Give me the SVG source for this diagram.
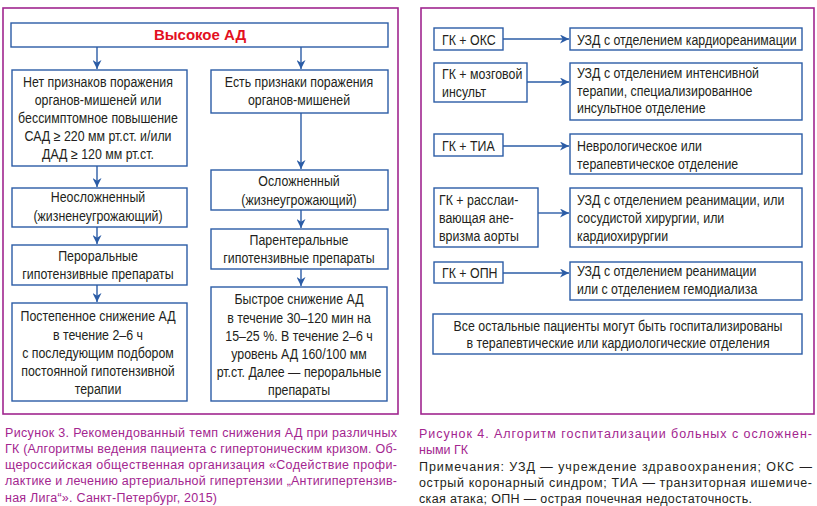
<svg xmlns="http://www.w3.org/2000/svg" width="817" height="506" viewBox="0 0 817 506">
<defs>
<style>
.frame{fill:none;stroke:#a0268f;stroke-width:1.6}
.box{fill:#fff;stroke:#2b5ca6;stroke-width:1.4}
.t{font-family:"Liberation Sans",Arial,sans-serif;font-size:14px;fill:#231f20}
.c{text-anchor:middle}
.title{font-family:"Liberation Sans",Arial,sans-serif;font-size:15px;font-weight:bold;fill:#e3101e;text-anchor:middle}
.cap{font-family:"Liberation Sans","DejaVu Sans",sans-serif;font-size:12.5px;fill:#a3258f}
.note{font-family:"Liberation Sans","DejaVu Sans",sans-serif;font-size:12.5px;fill:#231f20}
.conn line{stroke:#2b5ca6;stroke-width:1.4}
</style>
<marker id="ah" viewBox="0 0 10 10" refX="10" refY="5" markerWidth="9" markerHeight="9" markerUnits="userSpaceOnUse" orient="auto">
<path d="M0,0 L10,5 L0,10 L3,5 z" fill="#2b5ca6"/>
</marker>
</defs>
<rect width="817" height="506" fill="#fff"/>
<rect class="frame" x="3" y="8" width="395" height="406"/>
<rect class="frame" x="421" y="8" width="393" height="406"/>

<g class="conn">
<line x1="97" y1="47" x2="97" y2="69" marker-end="url(#ah)"/>
<line x1="301" y1="47" x2="301" y2="69" marker-end="url(#ah)"/>
<line x1="301" y1="113" x2="301" y2="169" marker-end="url(#ah)"/>
<line x1="97" y1="166" x2="97" y2="187" marker-end="url(#ah)"/>
<line x1="97" y1="227" x2="97" y2="244" marker-end="url(#ah)"/>
<line x1="97" y1="285" x2="97" y2="302" marker-end="url(#ah)"/>
<line x1="301" y1="210" x2="301" y2="228" marker-end="url(#ah)"/>
<line x1="301" y1="269" x2="301" y2="286" marker-end="url(#ah)"/>
<line x1="503" y1="39" x2="569" y2="39" marker-end="url(#ah)"/>
<line x1="527" y1="82" x2="569" y2="82" marker-end="url(#ah)"/>
<line x1="503" y1="146" x2="569" y2="146" marker-end="url(#ah)"/>
<line x1="538" y1="213" x2="569" y2="213" marker-end="url(#ah)"/>
<line x1="503" y1="273" x2="569" y2="273" marker-end="url(#ah)"/>
</g>

<g id="n-high">
<rect class="box" x="11" y="23" width="377" height="24"/>
<text class="title" x="200" y="40">Высокое АД</text>
</g>
<g id="n-no-signs">
<rect class="box" x="12" y="70" width="175" height="96"/>
<g transform="translate(98 0) scale(0.885 1)">
<text class="t c" x="0" y="87">Нет признаков поражения</text>
<text class="t c" x="0" y="105">органов-мишеней или</text>
<text class="t c" x="0" y="123">бессимптомное повышение</text>
<text class="t c" x="0" y="141">САД ≥ 220 мм рт.ст. и/или</text>
<text class="t c" x="0" y="159">ДАД ≥ 120 мм рт.ст.</text>
</g>
</g>
<g id="n-signs">
<rect class="box" x="211" y="70" width="177" height="43"/>
<g transform="translate(299 0) scale(0.885 1)">
<text class="t c" x="0" y="87">Есть признаки поражения</text>
<text class="t c" x="0" y="105">органов-мишеней</text>
</g>
</g>
<g id="n-uncomplicated">
<rect class="box" x="12" y="188" width="175" height="39"/>
<g transform="translate(98 0) scale(0.885 1)">
<text class="t c" x="0" y="202">Неосложненный</text>
<text class="t c" x="0" y="221">(жизненеугрожающий)</text>
</g>
</g>
<g id="n-oral">
<rect class="box" x="12" y="245" width="175" height="40"/>
<g transform="translate(98 0) scale(0.885 1)">
<text class="t c" x="0" y="261">Пероральные</text>
<text class="t c" x="0" y="279">гипотензивные препараты</text>
</g>
</g>
<g id="n-gradual">
<rect class="box" x="12" y="303" width="175" height="98"/>
<g transform="translate(98 0) scale(0.885 1)">
<text class="t c" x="0" y="321">Постепенное снижение АД</text>
<text class="t c" x="0" y="340">в течение 2–6 ч</text>
<text class="t c" x="0" y="358">с последующим подбором</text>
<text class="t c" x="0" y="376">постоянной гипотензивной</text>
<text class="t c" x="0" y="394">терапии</text>
</g>
</g>
<g id="n-complicated">
<rect class="box" x="211" y="170" width="177" height="40"/>
<g transform="translate(299 0) scale(0.885 1)">
<text class="t c" x="0" y="186">Осложненный</text>
<text class="t c" x="0" y="205">(жизнеугрожающий)</text>
</g>
</g>
<g id="n-parenteral">
<rect class="box" x="211" y="229" width="177" height="40"/>
<g transform="translate(299 0) scale(0.885 1)">
<text class="t c" x="0" y="245">Парентеральные</text>
<text class="t c" x="0" y="263">гипотензивные препараты</text>
</g>
</g>
<g id="n-rapid">
<rect class="box" x="211" y="287" width="176" height="114"/>
<g transform="translate(299 0) scale(0.885 1)">
<text class="t c" x="0" y="304">Быстрое снижение АД</text>
<text class="t c" x="0" y="323">в течение 30–120 мин на</text>
<text class="t c" x="0" y="341">15–25 %. В течение 2–6 ч</text>
<text class="t c" x="0" y="359">уровень АД 160/100 мм</text>
<text class="t c" x="0" y="377">рт.ст. Далее — пероральные</text>
<text class="t c" x="0" y="395">препараты</text>
</g>
</g>

<g id="n-oks">
<rect class="box" x="434" y="28" width="69" height="22"/>
<g transform="translate(442 0) scale(0.885 1)"><text class="t" x="0" y="45">ГК + ОКС</text></g>
</g>
<g id="n-oks-dest">
<rect class="box" x="570" y="28" width="232" height="22"/>
<g transform="translate(577 0) scale(0.885 1)"><text class="t" x="0" y="45">УЗД с отделением кардиореанимации</text></g>
</g>
<g id="n-stroke">
<rect class="box" x="434" y="63" width="93" height="39"/>
<g transform="translate(442 0) scale(0.885 1)">
<text class="t" x="0" y="79">ГК + мозговой</text>
<text class="t" x="0" y="97">инсульт</text>
</g>
</g>
<g id="n-stroke-dest">
<rect class="box" x="570" y="63" width="232" height="57"/>
<g transform="translate(577 0) scale(0.885 1)">
<text class="t" x="0" y="78">УЗД с отделением интенсивной</text>
<text class="t" x="0" y="96">терапии, специализированное</text>
<text class="t" x="0" y="113">инсультное отделение</text>
</g>
</g>
<g id="n-tia">
<rect class="box" x="434" y="134" width="69" height="22"/>
<g transform="translate(442 0) scale(0.885 1)"><text class="t" x="0" y="151">ГК + ТИА</text></g>
</g>
<g id="n-tia-dest">
<rect class="box" x="570" y="134" width="232" height="40"/>
<g transform="translate(577 0) scale(0.885 1)">
<text class="t" x="0" y="151">Неврологическое или</text>
<text class="t" x="0" y="169">терапевтическое отделение</text>
</g>
</g>
<g id="n-aorta">
<rect class="box" x="434" y="188" width="104" height="59"/>
<g transform="translate(439 0) scale(0.885 1)">
<text class="t" x="0" y="205">ГК + расслаи-</text>
<text class="t" x="0" y="223">вающая ане-</text>
<text class="t" x="0" y="241">вризма аорты</text>
</g>
</g>
<g id="n-aorta-dest">
<rect class="box" x="570" y="188" width="232" height="59"/>
<g transform="translate(577 0) scale(0.885 1)">
<text class="t" x="0" y="205">УЗД с отделением реанимации, или</text>
<text class="t" x="0" y="223">сосудистой хирургии, или</text>
<text class="t" x="0" y="241">кардиохирургии</text>
</g>
</g>
<g id="n-opn">
<rect class="box" x="434" y="262" width="69" height="21"/>
<g transform="translate(442 0) scale(0.885 1)"><text class="t" x="0" y="278">ГК + ОПН</text></g>
</g>
<g id="n-opn-dest">
<rect class="box" x="570" y="262" width="232" height="38"/>
<g transform="translate(577 0) scale(0.885 1)">
<text class="t" x="0" y="276">УЗД с отделением реанимации</text>
<text class="t" x="0" y="294">или с отделением гемодиализа</text>
</g>
</g>
<g id="n-others">
<rect class="box" x="433" y="314" width="369" height="40"/>
<g transform="translate(618 0) scale(0.885 1)">
<text class="t c" x="0" y="331">Все остальные пациенты могут быть госпитализированы</text>
<text class="t c" x="0" y="348">в терапевтические или кардиологические отделения</text>
</g>
</g>

<g id="caption3">
<text class="cap" x="5" y="437" textLength="392" lengthAdjust="spacing">Рисунок 3.  Рекомендованный темп снижения АД при различных</text>
<text class="cap" x="5" y="453" textLength="392" lengthAdjust="spacing">ГК (Алгоритмы ведения пациента с гипертоническим кризом. Об-</text>
<text class="cap" x="5" y="469" textLength="392" lengthAdjust="spacing">щероссийская общественная организация «Содействие профи-</text>
<text class="cap" x="5" y="485" textLength="392" lengthAdjust="spacing">лактике и лечению артериальной гипертензии „Антигипертензив-</text>
<text class="cap" x="5" y="502" textLength="212" lengthAdjust="spacing">ная Лига“». Санкт-Петербург, 2015)</text>
</g>
<g id="caption4">
<text class="cap" x="419" y="438" textLength="393" lengthAdjust="spacing">Рисунок 4. Алгоритм госпитализации больных с осложнен-</text>
<text class="cap" x="419" y="454">ными ГК</text>
<text class="note" x="419" y="471" textLength="393" lengthAdjust="spacing">Примечания: УЗД — учреждение здравоохранения; ОКС —</text>
<text class="note" x="419" y="487" textLength="393" lengthAdjust="spacing">острый коронарный синдром; ТИА — транзиторная ишемиче-</text>
<text class="note" x="419" y="503" textLength="333" lengthAdjust="spacing">ская атака; ОПН — острая почечная недостаточность.</text>
</g>
</svg>
